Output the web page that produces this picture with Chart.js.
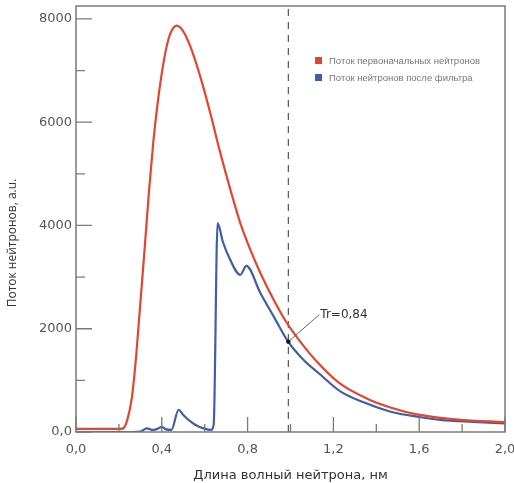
<!DOCTYPE html>
<html>
<head>
<meta charset="utf-8">
<script src="https://cdn.jsdelivr.net/npm/chart.js@4"></script>
<style>
  body { margin: 0; background: #fff; }
  .chart-container { position: relative; width: 514px; height: 483px; }
  .legend { position: absolute; left: 315px; top: 54px; font: 9.5px "Liberation Sans", Arial, sans-serif; color: #777; }
  .legend div { height: 17px; line-height: 14px; white-space: nowrap; }
  .legend span { display: inline-block; width: 7px; height: 7px; margin-right: 7px; }
</style>
</head>
<body>
<div class="chart-container">
  <canvas id="fluxChart" width="514" height="483"></canvas>
  <div class="legend">
    <div><span style="background:#e3452f"></span>Поток первоначальных нейтронов</div>
    <div><span style="background:#3f5ea8"></span>Поток нейтронов после фильтра</div>
  </div>
</div>
<script>
// initial neutron flux
const lambdaInitial = [0, 0.1, 0.2, 0.22, 0.24, 0.26, 0.28, 0.30, 0.32, 0.34, 0.36, 0.38, 0.40, 0.42, 0.44, 0.47, 0.50, 0.533, 0.579, 0.626, 0.673, 0.72, 0.766, 0.813, 0.86, 0.922, 0.984, 1.04, 1.13, 1.23, 1.36, 1.47, 1.59, 1.78, 2.0];
const fluxInitial   = [60, 60, 60, 70, 250, 650, 1450, 2500, 3550, 4650, 5600, 6350, 6950, 7420, 7720, 7870, 7760, 7467, 6886, 6176, 5401, 4690, 4045, 3527, 3075, 2558, 2106, 1780, 1330, 940, 640, 470, 340, 240, 190];

// flux after filter
const lambdaFiltered = [0, 0.2, 0.3, 0.33, 0.36, 0.38, 0.40, 0.42, 0.445, 0.478, 0.50, 0.535, 0.56, 0.595, 0.63, 0.642, 0.66, 0.685, 0.712, 0.766, 0.794, 0.86, 0.922, 0.989, 1.06, 1.132, 1.234, 1.35, 1.467, 1.6, 1.7, 1.85, 2.0];
const fluxFiltered   = [0, 0, 10, 70, 40, 60, 100, 50, 40, 430, 330, 200, 130, 70, 40, 150, 4045, 3680, 3397, 3043, 3217, 2688, 2235, 1750, 1400, 1137, 781, 560, 393, 290, 233, 195, 165];

const xTicks = [0, 0.4, 0.8, 1.2, 1.6, 2.0];
const xMinorTicks = [0.2, 0.6, 1.0, 1.4, 1.8];
const yTicks = [0, 2000, 4000, 6000, 8000];
const yMinorTicks = [1000, 3000, 5000, 7000];
const yMax = 8250;

const cutoff = 0.99;
const trPoint = { x: 0.99, y: 1750 };
const trLabel = 'Tr=0,84';
const yTitle = 'Поток нейтронов, а.u.';

const toPoints = (xs, ys) => xs.map((x, i) => ({ x: x, y: ys[i] }));

const frameAndTicks = {
    id: 'frameAndTicks',
    afterDraw(chart) {
        const { ctx, chartArea: a, scales: { x, y } } = chart;
        ctx.save();
        ctx.strokeStyle = '#7a7a7a';
        ctx.lineWidth = 1.3;
        ctx.beginPath();
        xTicks.forEach(v => { const px = x.getPixelForValue(v); ctx.moveTo(px, a.bottom); ctx.lineTo(px, a.bottom - 15); });
        xMinorTicks.forEach(v => { const px = x.getPixelForValue(v); ctx.moveTo(px, a.bottom); ctx.lineTo(px, a.bottom - 8); });
        yTicks.forEach(v => { const py = y.getPixelForValue(v); ctx.moveTo(a.left, py); ctx.lineTo(a.left + 16, py); });
        yMinorTicks.forEach(v => { const py = y.getPixelForValue(v); ctx.moveTo(a.left, py); ctx.lineTo(a.left + 9, py); });
        ctx.stroke();
        ctx.lineWidth = 1.5;
        ctx.strokeRect(a.left, a.top, a.right - a.left, a.bottom - a.top);

        // Tr annotation
        const px = x.getPixelForValue(trPoint.x);
        const py = y.getPixelForValue(trPoint.y);
        ctx.strokeStyle = '#666';
        ctx.lineWidth = 1;
        ctx.beginPath();
        ctx.moveTo(px, py);
        ctx.lineTo(px + 31, py - 27);
        ctx.stroke();
        ctx.fillStyle = '#111';
        ctx.beginPath();
        ctx.arc(px, py, 2.2, 0, Math.PI * 2);
        ctx.fill();
        ctx.fillStyle = '#333';
        ctx.font = '12px "DejaVu Sans", sans-serif';
        ctx.textBaseline = 'middle';
        ctx.fillText(trLabel, px + 32, py - 27);

        // y axis title, sitting a bit below the middle as in the original
        ctx.translate(13, 243);
        ctx.rotate(-Math.PI / 2);
        ctx.textAlign = 'center';
        ctx.font = '12px "Open Sans", sans-serif';
        ctx.fillText(yTitle, 0, 0);
        ctx.restore();
    }
};

const ctx = document.getElementById('fluxChart').getContext('2d');
const fluxChart = new Chart(ctx, {
    type: 'line',
    data: {
        datasets: [{
            label: 'Поток первоначальных нейтронов',
            data: toPoints(lambdaInitial, fluxInitial),
            borderColor: '#e3452f',
            borderWidth: 2.2,
            pointRadius: 0,
            cubicInterpolationMode: 'monotone'
        }, {
            label: 'Поток нейтронов после фильтра',
            data: toPoints(lambdaFiltered, fluxFiltered),
            borderColor: '#3f5ea8',
            borderWidth: 2.2,
            pointRadius: 0,
            cubicInterpolationMode: 'monotone'
        }, {
            label: 'cutoff',
            data: [{ x: cutoff, y: 0 }, { x: cutoff, y: yMax }],
            borderColor: '#555',
            borderWidth: 1.2,
            borderDash: [7, 6],
            pointRadius: 0
        }]
    },
    options: {
        responsive: false,
        animation: false,
        layout: { padding: { left: 0, top: 6, right: 9, bottom: 0 } },
        scales: {
            x: {
                type: 'linear',
                min: 0,
                max: 2,
                afterBuildTicks: (scale) => { scale.ticks = xTicks.map(v => ({ value: v })); },
                afterFit: (scale) => { scale.height = 51; scale.paddingLeft = 0; scale.paddingRight = 0; },
                grid: { display: false, drawTicks: false },
                border: { display: false },
                ticks: {
                    padding: 10,
                    color: '#555',
                    font: { family: 'DejaVu Sans', size: 13 },
                    maxRotation: 0,
                    callback: (v) => v.toFixed(1).replace('.', ',')
                },
                title: {
                    display: true,
                    text: 'Длина волный нейтрона, нм',
                    color: '#333',
                    font: { family: 'DejaVu Sans', size: 13 },
                    padding: { top: 2, bottom: 0 }
                }
            },
            y: {
                min: 0,
                max: yMax,
                afterBuildTicks: (scale) => { scale.ticks = yTicks.map(v => ({ value: v })); },
                afterFit: (scale) => { scale.width = 76; scale.paddingTop = 0; scale.paddingBottom = 0; },
                grid: { display: false, drawTicks: false },
                border: { display: false },
                ticks: {
                    padding: 4,
                    color: '#555',
                    font: { family: 'DejaVu Sans', size: 13 },
                    callback: (v) => v === 0 ? '0,0' : String(v)
                }
            }
        },
        plugins: {
            legend: { display: false },
            tooltip: { enabled: false }
        }
    },
    plugins: [frameAndTicks]
});
</script>
</body>
</html>
